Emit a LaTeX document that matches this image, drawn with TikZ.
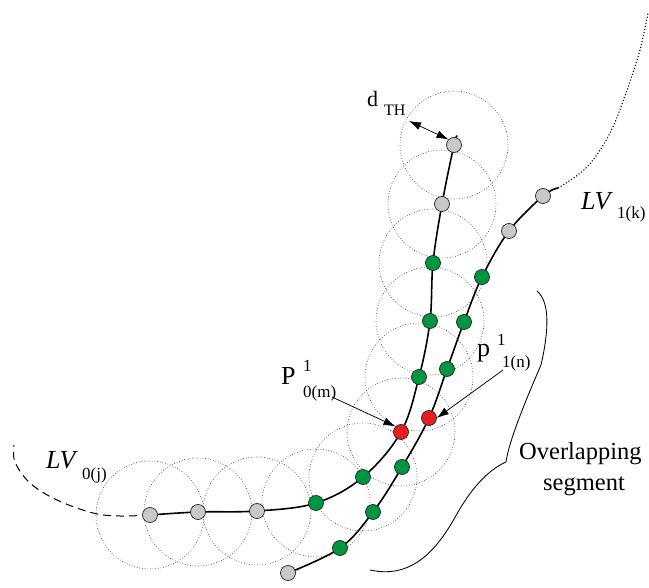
\documentclass[tikz,border=0pt]{standalone}
\usepackage{fontspec}
\setmainfont{Liberation Serif}
\usetikzlibrary{arrows.meta}
\definecolor{ptgray}{RGB}{200,200,200}
\definecolor{ptgreen}{RGB}{0,150,64}
\definecolor{ptred}{RGB}{230,30,36}
\begin{document}
\begin{tikzpicture}[x=1pt,y=-1pt,
  pt/.style={circle,draw=black!85,line width=0.7pt,minimum size=15pt,inner sep=0pt},
  gpt/.style={pt,fill=ptgray},
  npt/.style={pt,fill=ptgreen},
  rpt/.style={pt,fill=ptred},
  zone/.style={draw=black!80,dotted,line width=0.65pt},
  track/.style={line width=1.6pt,line cap=round},
  lbl/.style={inner sep=0pt,anchor=base west},
  big/.style={font=\fontsize{26}{30}\selectfont},
  small/.style={font=\fontsize{17}{20}\selectfont},
  ptr/.style={line width=0.75pt,-{Latex[length=12pt,width=8pt]}},
]
\useasboundingbox (0,0) rectangle (649,588);
% points of LV0
\coordinate (a1) at (150,515);
\coordinate (a2) at (198,512);
\coordinate (a3) at (257,511);
\coordinate (a4) at (316,503);
\coordinate (a5) at (363,477);
\coordinate (a6) at (401,432);
\coordinate (a7) at (419,377);
\coordinate (a8) at (430,321);
\coordinate (a9) at (433,263);
\coordinate (a10) at (442,204);
\coordinate (a11) at (454,145);
\coordinate (aend) at (457,136);
\coordinate (d1) at (120,516);
\coordinate (d2) at (93,513);
\coordinate (d3) at (57,500);
\coordinate (d4) at (30,483);
\coordinate (d5) at (15,462);
\coordinate (d6) at (14,445);
% points of LV1
\coordinate (b1) at (288,573);
\coordinate (b2) at (340,548);
\coordinate (b3) at (373,512);
\coordinate (b4) at (402,467);
\coordinate (b5) at (429,418);
\coordinate (b6) at (447,369);
\coordinate (b7) at (464,322);
\coordinate (b8) at (482,277);
\coordinate (b9) at (509,231);
\coordinate (b10) at (543,196);
\coordinate (bend) at (558,188);
\coordinate (e1) at (587,167);
\coordinate (e2) at (610,133);
\coordinate (e3) at (627,90);
\coordinate (e4) at (640,50);
\coordinate (e5) at (648,13);
% threshold circles
\foreach \p in {a1,a2,a3,a4,a5,a6,a7,a8,a9,a10,a11}
  \draw[zone] (\p) circle[radius=54pt];
% tracks
\draw[track] plot[smooth,tension=0.6] coordinates {(a1) (a2) (a3) (a4) (a5) (a6) (a7) (a8) (a9) (a10) (a11) (aend)};
\draw[line width=1pt,dash pattern=on 8pt off 5pt] plot[smooth,tension=0.6] coordinates {(a1) (d1) (d2) (d3) (d4) (d5) (d6)};
\draw[track] plot[smooth,tension=0.6] coordinates {(b1) (b2) (b3) (b4) (b5) (b6) (b7) (b8) (b9) (b10) (bend)};
\draw[line width=1.1pt,dotted] plot[smooth,tension=0.6] coordinates {(bend) (e1) (e2) (e3) (e4) (e5)};
% point nodes
\node[gpt] (A1) at (a1) {};
\node[gpt] (A2) at (a2) {};
\node[gpt] (A3) at (a3) {};
\node[npt] (A4) at (a4) {};
\node[npt] (A5) at (a5) {};
\node[rpt] (A6) at (a6) {};
\node[npt] (A7) at (a7) {};
\node[npt] (A8) at (a8) {};
\node[npt] (A9) at (a9) {};
\node[gpt] (A10) at (a10) {};
\node[gpt] (A11) at (a11) {};
\node[gpt] (B1) at (b1) {};
\node[npt] (B2) at (b2) {};
\node[npt] (B3) at (b3) {};
\node[npt] (B4) at (b4) {};
\node[rpt] (B5) at (b5) {};
\node[npt] (B6) at (b6) {};
\node[npt] (B7) at (b7) {};
\node[npt] (B8) at (b8) {};
\node[gpt] (B9) at (b9) {};
\node[gpt] (B10) at (b10) {};
% d_TH
\coordinate (rim) at (409,121);
\draw[line width=0.75pt,{Latex[length=12pt,width=8pt]}-{Latex[length=12pt,width=8pt]}] (rim) -- (A11.north west);
\node[lbl,font=\fontsize{22}{26}\selectfont] (dT) at (367,107) {d};
\node[lbl,font=\fontsize{16}{19}\selectfont] (dTs) at (384,116) {TH};
% P^1_0(m)
\node[lbl,big] (P0) at (281,385) {P};
\node[lbl,small] (P0sup) at (303,372) {1};
\node[lbl,small] (P0sub) at (303,398) {0(m)};
\coordinate (p0tail) at (332,397);
\draw[ptr] (p0tail) -- (A6.north west);
% p^1_1(n)
\node[lbl,big] (P1) at (477,357) {p};
\node[lbl,small] (P1sup) at (497,346) {1};
\node[lbl,small] (P1sub) at (502,368) {1(n)};
\coordinate (p1tail) at (503,370);
\draw[ptr] (p1tail) -- (B5.east);
% LV labels
\node[lbl,big] (L0) at (46,468) {\itshape LV};
\node[lbl,small] (L0s) at (82,479) {0(j)};
\node[lbl,big] (L1) at (581,210) {\itshape LV};
\node[lbl,small] (L1s) at (617,219) {1(k)};
% overlapping segment brace
\coordinate (br1) at (537,291);
\coordinate (br2) at (506,462);
\coordinate (br3) at (370,570);
\draw[line width=0.85pt] (br1) .. controls (550,302) and (549,330) .. (541,365)
  .. controls (528,395) and (509,440) .. (br2);
\draw[line width=0.85pt] (br2) .. controls (488,470) and (472,488) .. (458,512)
  .. controls (440,545) and (415,580) .. (br3);
\node[lbl,font=\fontsize{24.5}{30}\selectfont] (ov1) at (519,460) {Overlapping};
\node[lbl,font=\fontsize{24.5}{30}\selectfont] (ov2) at (543,491) {segment};
\end{tikzpicture}
\end{document}
